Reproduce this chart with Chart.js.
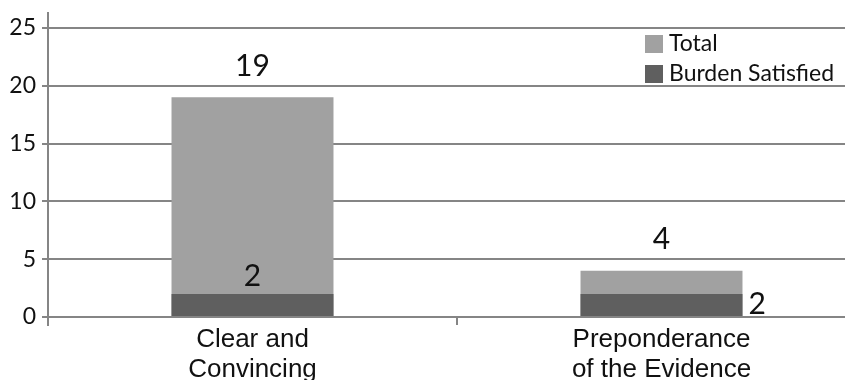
<!DOCTYPE html>
<html>
<head>
<meta charset="utf-8">
<script src="https://cdn.jsdelivr.net/npm/chart.js@4.4.1/dist/chart.umd.min.js"></script>
<style>
html,body{margin:0;padding:0;background:#fff;overflow:hidden;}
#wrap{width:870px;height:380px;}
</style>
</head>
<body>
<div id="wrap"><canvas id="c" width="870" height="380"></canvas></div>
<script>
const categories = [["Clear and", "Convincing"], ["Preponderance", "of the Evidence"]];
const seriesNames = ["Total", "Burden Satisfied"];
const totalValues = [19, 4];
const burdenValues = [2, 2];
const yTicks = [0, 5, 10, 15, 20, 25];

const colTotal = "#a1a1a1";
const colBurden = "#5f5f5f";
const gridCol = "#858585";
const textCol = "#111111";

const labelPlugin = {
  id: "valueLabels",
  afterDatasetsDraw(chart) {
    const ctx = chart.ctx;
    ctx.save();
    ctx.fillStyle = textCol;
    ctx.font = "30px Lato";
    const mTot = chart.getDatasetMeta(0);
    const mBur = chart.getDatasetMeta(1);
    mTot.data.forEach((bar, i) => {
      ctx.textAlign = "center";
      ctx.textBaseline = "bottom";
      ctx.fillText(String(totalValues[i]), bar.x, bar.y - 16);
    });
    mBur.data.forEach((bar, i) => {
      const totTop = mTot.data[i].y;
      const room = bar.y - totTop;
      if (room > 30) {
        ctx.textAlign = "center";
        ctx.textBaseline = "bottom";
        ctx.fillText(String(burdenValues[i]), bar.x, bar.y - 3);
      } else {
        ctx.textAlign = "left";
        ctx.textBaseline = "middle";
        ctx.fillText(String(burdenValues[i]), bar.x + bar.width / 2 + 6, (bar.y + bar.base) / 2 - 1);
      }
    });
    ctx.restore();
  },
  afterDraw(chart) {
    const ctx = chart.ctx;
    const a = chart.chartArea;
    ctx.save();
    ctx.strokeStyle = gridCol;
    ctx.lineWidth = 2;
    ctx.beginPath();
    ctx.moveTo(a.left, a.top - 16);
    ctx.lineTo(a.left, a.bottom + 9);
    ctx.stroke();
    // legend
    const items = [[seriesNames[0], colTotal], [seriesNames[1], colBurden]];
    ctx.font = "23px Lato";
    ctx.textAlign = "left";
    ctx.textBaseline = "middle";
    items.forEach((it, k) => {
      const y = 35 + k * 30;
      ctx.fillStyle = it[1];
      ctx.fillRect(645, y, 18, 18);
      ctx.fillStyle = textCol;
      ctx.fillText(it[0], 669, y + 9);
    });
    ctx.restore();
  }
};

new Chart(document.getElementById("c"), {
  type: "bar",
  data: {
    labels: categories,
    datasets: [
      { label: seriesNames[0], data: totalValues, backgroundColor: colTotal, order: 1 },
      { label: seriesNames[1], data: burdenValues, backgroundColor: colBurden, order: 0 }
    ]
  },
  options: {
    responsive: false,
    animation: false,
    devicePixelRatio: 1,
    datasets: { bar: { grouped: false, categoryPercentage: 1, barPercentage: 0.396 } },
    layout: { padding: { top: 28, right: 4, left: 0, bottom: 0 } },
    plugins: { legend: { display: false }, tooltip: { enabled: false } },
    scales: {
      x: {
        grid: { drawOnChartArea: false, color: gridCol, lineWidth: 2, tickLength: 8 },
        border: { display: true, color: gridCol, width: 2 },
        ticks: { color: textCol, font: { family: "Liberation Sans, Arial", size: 26, lineHeight: 1.15 }, padding: 0, maxRotation: 0 },
        afterFit(s) { s.height = 63; }
      },
      y: {
        min: 0, max: 25,
        afterBuildTicks(s) { s.ticks = yTicks.map(v => ({ value: v })); },
        grid: { color: gridCol, lineWidth: 2, tickLength: 6 },
        border: { display: true, color: gridCol, width: 2 },
        ticks: { color: textCol, font: { family: "Lato", size: 23 }, padding: 6 },
        afterFit(s) { s.width = 48; }
      }
    }
  },
  plugins: [labelPlugin]
});
</script>
</body>
</html>
